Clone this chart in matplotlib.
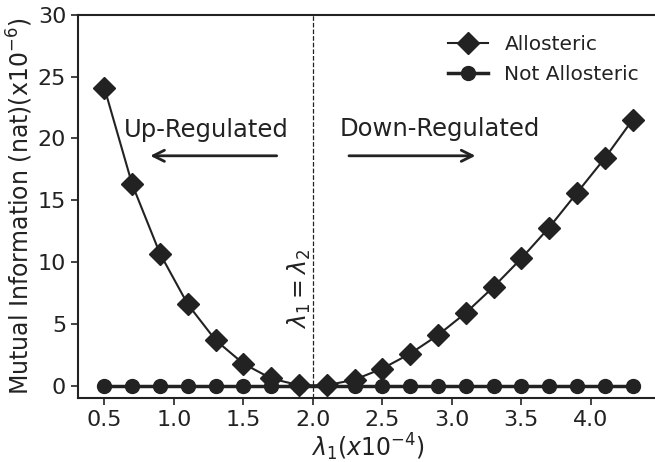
import matplotlib
matplotlib.use("Agg")
import matplotlib.pyplot as plt
import numpy as np

lam1 = [0.5, 0.7, 0.9, 1.1, 1.3, 1.5, 1.7, 1.9, 2.1, 2.3, 2.5, 2.7, 2.9, 3.1, 3.3, 3.5, 3.7, 3.9, 4.1, 4.3]
allosteric = [24.1, 16.3, 10.7, 6.6, 3.7, 1.8, 0.6, 0.05, 0.05, 0.5, 1.4, 2.6, 4.1, 5.9, 8.0, 10.3, 12.8, 15.6, 18.4, 21.5]
not_allosteric = [0.0] * 20

col = "#222222"
plt.rcParams["font.family"] = "DejaVu Sans"
fig = plt.figure(figsize=(6.55, 4.62), dpi=100)
ax = fig.add_axes([0.119, 0.138, 0.887, 0.83])

ax.plot(lam1, allosteric, marker="D", color=col, ms=11, lw=1.5, label="Allosteric")
ax.plot(lam1, not_allosteric, marker="o", color=col, ms=10, lw=2.5, label="Not Allosteric")
ax.axvline(2.0, color=col, ls="--", lw=0.9)

ax.set_xlim(0.31, 4.49)
ax.set_ylim(-1, 30)
ax.set_xticks([0.5, 1.0, 1.5, 2.0, 2.5, 3.0, 3.5, 4.0])
ax.set_yticks([0, 5, 10, 15, 20, 25, 30])
ax.tick_params(labelsize=16, length=5, width=1.2, colors=col, labelcolor=col)
for s in ax.spines.values():
    s.set_linewidth(1.5)
    s.set_color(col)

ax.set_xlabel(r"$\lambda_1(x10^{-4})$", fontsize=17, color=col, labelpad=1)
ax.set_ylabel(r"Mutual Information (nat)(x10$^{-6}$)", fontsize=17, color=col, labelpad=2)

ax.text(1.9, 4.6, r"$\lambda_1 = \lambda_2$", rotation=90, ha="center", va="bottom", fontsize=17, color=col)
ax.text(1.23, 20.7, "Up-Regulated", ha="center", va="center", fontsize=17.5, color=col)
ax.text(2.91, 20.8, "Down-Regulated", ha="center", va="center", fontsize=17.5, color=col)
ax.annotate("", xy=(0.81, 18.6), xytext=(1.76, 18.6),
            arrowprops=dict(arrowstyle="->", lw=2, color=col, mutation_scale=20))
ax.annotate("", xy=(3.19, 18.6), xytext=(2.24, 18.6),
            arrowprops=dict(arrowstyle="->", lw=2, color=col, mutation_scale=20))

leg = ax.legend(loc="upper right", frameon=False, fontsize=14.5, bbox_to_anchor=(0.997, 0.995),
                handlelength=2.0, labelspacing=0.55)
for t in leg.get_texts():
    t.set_color(col)

fig.savefig("out.png", dpi=100)
